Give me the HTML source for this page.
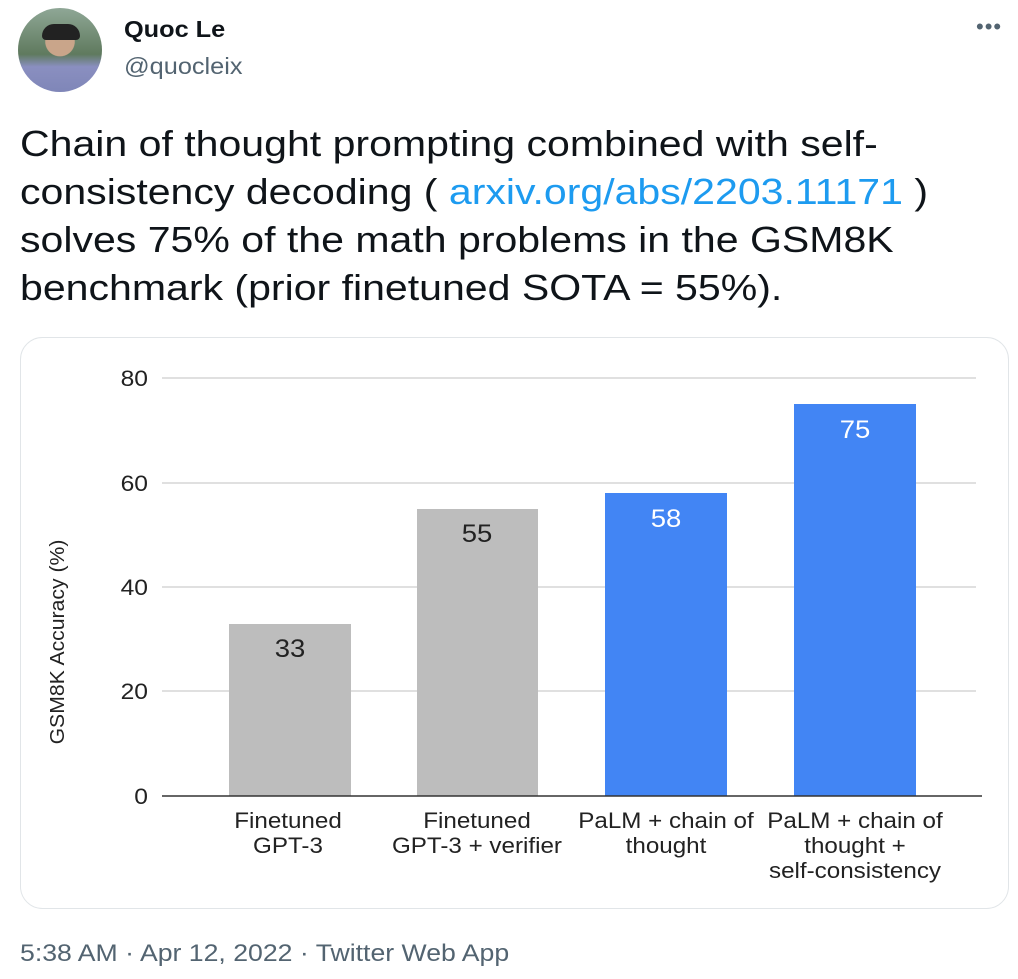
<!DOCTYPE html>
<html><head><meta charset="utf-8"><style>
html,body{margin:0;padding:0;background:#fff;width:1018px;height:979px;overflow:hidden;font-family:"Liberation Sans",Arial,sans-serif;}
.abs{position:absolute;white-space:nowrap;}
</style></head><body>
<div class="abs" style="left:18px;top:8px;width:84px;height:84px;border-radius:50%;background:radial-gradient(circle at 50% 40%,#c9a58a 0 22%,transparent 23%),linear-gradient(180deg,#8fa796 0%,#5f7a5e 55%,#8a8fc0 70%,#7f86b8 100%);"></div>
<div class="abs" style="left:42px;top:24px;width:38px;height:16px;background:#222;border-radius:12px 12px 4px 4px;"></div>
<div class="abs" style="left:124px;top:16px;font-size:23px;font-weight:bold;color:#0f1419;transform:scaleX(1.1);transform-origin:left;">Quoc Le</div>
<div class="abs" style="left:124px;top:53px;font-size:23px;color:#536471;transform:scaleX(1.1);transform-origin:left;">@quocleix</div>
<div class="abs" style="left:976px;top:14px;font-size:22px;color:#536471;letter-spacing:1px;">•••</div>
<div class="abs" style="left:20px;top:120px;font-size:36px;line-height:48px;color:#0f1419;transform:scaleX(1.14);transform-origin:left;">Chain of thought prompting combined with self-<br>consistency decoding ( <span style="color:#1d9bf0">arxiv.org/abs/2203.11171</span> )<br>solves 75% of the math problems in the GSM8K<br>benchmark (prior finetuned SOTA = 55%).</div>
<svg class="abs" style="left:0;top:0" width="1018" height="979" font-family="Liberation Sans, Arial, sans-serif">
<rect x="20.5" y="337.5" width="988" height="571" rx="22" fill="#fff" stroke="#e1e5e8"/>
<g stroke="#d6d6d6" stroke-width="1.5">
<line x1="162" y1="378" x2="976" y2="378"/><line x1="162" y1="483" x2="976" y2="483"/>
<line x1="162" y1="587" x2="976" y2="587"/><line x1="162" y1="691" x2="976" y2="691"/>
</g>
<g font-size="22" fill="#222" text-anchor="end">
<g transform="translate(148,0) scale(1.12,1)">
<text x="0" y="386">80</text><text x="0" y="491">60</text><text x="0" y="595">40</text><text x="0" y="699">20</text><text x="0" y="804">0</text>
</g></g>
<text transform="translate(64,642) rotate(-90) scale(1.06,1)" font-size="20" fill="#222" text-anchor="middle">GSM8K Accuracy (%)</text>
<rect x="229" y="624" width="122" height="172" fill="#bdbdbd"/>
<rect x="417" y="509" width="121" height="287" fill="#bdbdbd"/>
<rect x="605" y="493" width="122" height="303" fill="#4285f4"/>
<rect x="794" y="404" width="122" height="392" fill="#4285f4"/>
<line x1="162" y1="796" x2="982" y2="796" stroke="#333" stroke-width="1.5"/>
<g font-size="25" text-anchor="middle">
<text transform="translate(290,657) scale(1.1,1)" fill="#222">33</text>
<text transform="translate(477,542) scale(1.1,1)" fill="#222">55</text>
<text transform="translate(666,527) scale(1.1,1)" fill="#fff">58</text>
<text transform="translate(855,438) scale(1.1,1)" fill="#fff">75</text>
</g>
<g font-size="22" fill="#222" text-anchor="middle">
<g transform="translate(288,0) scale(1.1,1)"><text x="0" y="828">Finetuned</text><text x="0" y="853">GPT-3</text></g>
<g transform="translate(477,0) scale(1.1,1)"><text x="0" y="828">Finetuned</text><text x="0" y="853">GPT-3 + verifier</text></g>
<g transform="translate(666,0) scale(1.1,1)"><text x="0" y="828">PaLM + chain of</text><text x="0" y="853">thought</text></g>
<g transform="translate(855,0) scale(1.1,1)"><text x="0" y="828">PaLM + chain of</text><text x="0" y="853">thought +</text><text x="0" y="878">self-consistency</text></g>
</g>
</svg>
<div class="abs" style="left:20px;top:940px;font-size:24px;color:#536471;transform:scaleX(1.11);transform-origin:left;">5:38 AM · Apr 12, 2022 · Twitter Web App</div>
</body></html>
